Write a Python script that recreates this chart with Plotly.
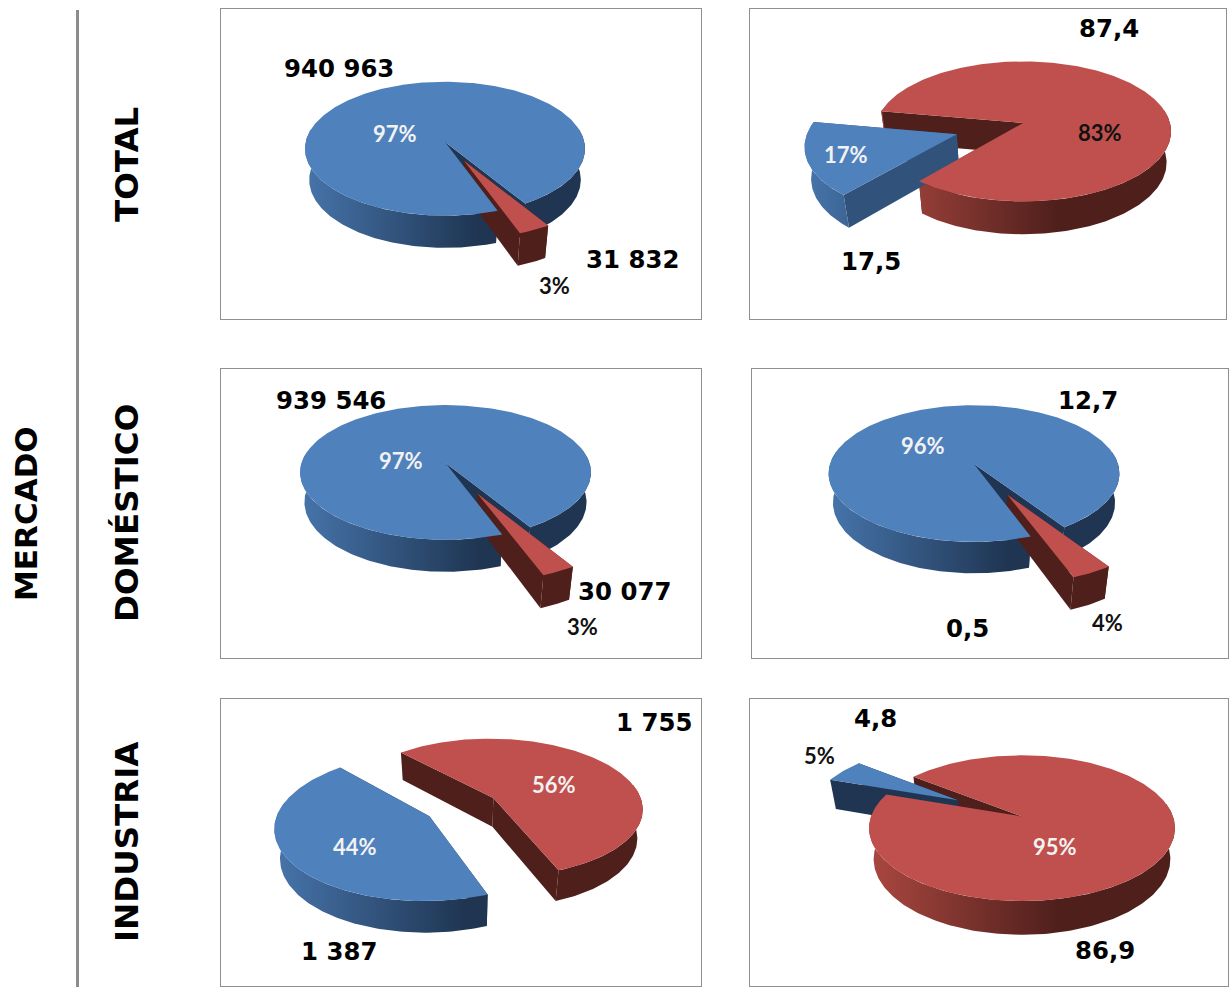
import math
import numpy as np
import plotly.graph_objects as go

# Values per panel, left to right and top to bottom
panel_ids = ["volumen_total", "valor_total", "volumen_dom", "valor_dom", "volumen_ind", "valor_ind"]
blue_values = [940963, 17.5, 939546, 12.7, 1387, 4.8]
red_values = [31832, 87.4, 30077, 0.5, 1755, 86.9]
row_titles = ["TOTAL", "DOMÉSTICO", "INDUSTRIA"]
side_title = "MERCADO"

W, H = 1230, 987
FRAME = "#8f8f8f"
BASE_SCALE = 0.97  # the underside of each pie reads slightly narrower than its top
BLUE = dict(top="#4f81bd", rim=[[0, "#4674aa"], [0.62, "#1f3552"], [1, "#1f3552"]])
RED = dict(top="#c0504d", rim=[[0, "#a9473f"], [0.62, "#4f1f1c"], [1, "#4f1f1c"]])

# Frame, pie projection and explosion for each panel.
# cx/cy locate the pie centre, rx/ry scale the disk, k sets the perspective, d the thickness.
geometry = [
    dict(frame=(221, 701, 9, 319), cx=445, cy=142, rx=139.3, ry=66.3, k=0.10, d=31, start=160,
         boom=(0, 0.30), edge=("#1f3552", "#4f1f1c")),
    dict(frame=(750, 1226, 9, 319), cx=1023, cy=123, rx=147, ry=69, k=0.12, d=31, start=220,
         boom=(0.47, 0), edge=("#31527a", "#4f1f1c")),
    dict(frame=(221, 701, 369, 658), cx=445.5, cy=463, rx=144, ry=66, k=0.14, d=29.5, start=160,
         boom=(0, 0.48), edge=("#1f3552", "#4f1f1c")),
    dict(frame=(752, 1228, 369, 658), cx=974, cy=464, rx=144, ry=67, k=0.14, d=29, start=160,
         boom=(0, 0.48), edge=("#1f3552", "#4f1f1c")),
    dict(frame=(221, 701, 699, 986), cx=462, cy=807, rx=150, ry=70, k=0.14, d=29, start=159,
         boom=(0.25, 0.25), edge=("#1f3552", "#4f1f1c")),
    dict(frame=(750, 1228, 699, 986), cx=1022, cy=816.5, rx=151, ry=71, k=0.16, d=30.5, start=289,
         boom=(0.50, 0), edge=("#1f3552", "#4f1f1c")),
]

# Label anchors: value labels (blue, red) and percentage labels (blue, red), with percent colours
label_spots = [
    dict(val=((339, 68), (632, 259)), pct=((395, 133), (554, 285)), pct_col=("#f2f2f2", "#111111")),
    dict(val=((871, 261), (1109, 28)), pct=((846, 154), (1100, 132)), pct_col=("#f2f2f2", "#111111")),
    dict(val=((331, 400), (624, 591)), pct=((401, 460), (582, 626)), pct_col=("#f2f2f2", "#111111")),
    dict(val=((1088, 400), (968, 628)), pct=((923, 445), (1107, 622)), pct_col=("#f2f2f2", "#111111")),
    dict(val=((339, 951), (654, 722)), pct=((355, 846), (554, 784)), pct_col=("#f2f2f2", "#f2f2f2")),
    dict(val=((875, 718), (1105, 950)), pct=((819, 755), (1055, 846)), pct_col=("#111111", "#f2f2f2")),
]
title_spots = [(127, 165), (127, 513), (127, 842)]


def fmt_value(v):
    """Spanish-style labels: thin groups for integers, decimal comma for the rest."""
    if isinstance(v, int):
        return f"{v:,}".replace(",", " ")
    return f"{v}".replace(".", ",")


def project(g, u, v, drop=0.0):
    w = 1 + g["k"] * v
    scale = 1 - (1 - BASE_SCALE) * drop
    return g["cx"] + scale * g["rx"] * u / w, g["cy"] - scale * g["ry"] * v / w + g["d"] * drop / w


def polar(theta, radius, mid, boom):
    t, m = math.radians(theta), math.radians(mid)
    return radius * math.sin(t) + boom * math.sin(m), radius * math.cos(t) + boom * math.cos(m)


def poly_trace(xs, ys, axis, color=None, gradient=None):
    kw = dict(fillgradient=gradient) if gradient else dict(fillcolor=color)
    return go.Scatter(x=xs, y=ys, xaxis=f"x{axis}", yaxis=f"y{axis}", mode="lines", fill="toself",
                      line=dict(width=0), hoverinfo="skip", showlegend=False, **kw)


def wall_traces(g, axis, t0, t1, boom, palette, edge):
    mid = (t0 + t1) / 2
    thetas = np.linspace(t0, t1, max(8, int(t1 - t0)))
    apex = polar(0, 0, mid, boom)
    traces = []

    # Straight walls along the two cut edges
    for theta in (t0, t1):
        u, v = polar(theta, 1, mid, boom)
        a = project(g, *apex), project(g, u, v), project(g, u, v, 1), project(g, *apex, 1)
        traces.append(poly_trace([p[0] for p in a], [p[1] for p in a], axis, color=edge))

    # Outer rim: one band per contiguous run of angles on the near side of the disk
    runs, run = [], []
    for t in thetas:
        if math.cos(math.radians(t)) < 0.2:
            run.append(t)
        elif run:
            runs.append(run)
            run = []
    if run:
        runs.append(run)
    bx0 = project(g, *polar(270, 1, mid, boom))[0]
    bx1 = project(g, *polar(90, 1, mid, boom))[0]
    for run in runs:
        pts = [polar(t, 1, mid, boom) for t in run]
        upper = [project(g, u, v) for u, v in pts]
        lower = [project(g, u, v, 1) for u, v in pts][::-1]
        ring = upper + lower
        grad = dict(type="horizontal", colorscale=palette["rim"], start=bx0, stop=bx1)
        traces.append(poly_trace([p[0] for p in ring], [p[1] for p in ring], axis, gradient=grad))
    return traces


def top_trace(g, axis, t0, t1, boom, palette):
    mid = (t0 + t1) / 2
    thetas = np.linspace(t0, t1, max(8, int(t1 - t0)))
    face = [project(g, *polar(0, 0, mid, boom))] + [project(g, *polar(t, 1, mid, boom)) for t in thetas]
    return poly_trace([p[0] for p in face], [p[1] for p in face], axis, color=palette["top"])


fig = go.Figure()
layout = dict(width=W, height=H, margin=dict(l=0, r=0, t=0, b=0), paper_bgcolor="white",
              plot_bgcolor="white", showlegend=False)
annotations = []

for i, g in enumerate(geometry):
    axis = i + 1
    x0, x1, y0, y1 = g["frame"]
    common = dict(showgrid=False, zeroline=False, showticklabels=False, ticks="", showline=True,
                  mirror=True, linecolor=FRAME, linewidth=1, fixedrange=True)
    layout[f"xaxis{axis}"] = dict(domain=[x0 / W, x1 / W], range=[x0, x1], anchor=f"y{axis}", **common)
    layout[f"yaxis{axis}"] = dict(domain=[1 - y1 / H, 1 - y0 / H], range=[y1, y0], anchor=f"x{axis}", **common)

    b, r = blue_values[i], red_values[i]
    total = b + r
    blue_sweep = 360 * b / total
    slices = [
        (g["start"], g["start"] + blue_sweep, g["boom"][0], BLUE, g["edge"][0]),
        (g["start"] + blue_sweep, g["start"] + 360, g["boom"][1], RED, g["edge"][1]),
    ]
    # Walls go down first, with the pulled-out slice above the other one;
    # top faces follow, painted from the back of the disk to the front.
    for t0, t1, boom, palette, edge in sorted(slices, key=lambda s: s[2]):
        fig.add_traces(wall_traces(g, axis, t0, t1, boom, palette, edge))
    for t0, t1, boom, palette, edge in sorted(slices, key=lambda s: -math.cos(math.radians((s[0] + s[1]) / 2))):
        fig.add_trace(top_trace(g, axis, t0, t1, boom, palette))

    spots = label_spots[i]
    for j, v in enumerate((b, r)):
        annotations.append(dict(x=spots["val"][j][0], y=spots["val"][j][1], xref=f"x{axis}", yref=f"y{axis}",
                                text=fmt_value(v), showarrow=False,
                                font=dict(family="DejaVu Sans", size=24.4, color="#000000", weight="bold")))
        annotations.append(dict(x=spots["pct"][j][0], y=spots["pct"][j][1], xref=f"x{axis}", yref=f"y{axis}",
                                text=f"<b>{round(100 * v / total)}%</b>", showarrow=False,
                                font=dict(family="Lato", size=22, color=spots["pct_col"][j])))

for title, (tx, ty) in zip(row_titles, title_spots):
    annotations.append(dict(x=tx / W, y=1 - ty / H, xref="paper", yref="paper", text=title, textangle=-90,
                            xanchor="center", yanchor="middle", showarrow=False,
                            font=dict(family="DejaVu Sans", size=32.5, color="#000000", weight="bold")))
annotations.append(dict(x=26 / W, y=1 - 514 / H, xref="paper", yref="paper", text=side_title, textangle=-90,
                        xanchor="center", yanchor="middle", showarrow=False,
                        font=dict(family="DejaVu Sans", size=31, color="#000000", weight="bold")))

layout["annotations"] = annotations
layout["shapes"] = [dict(type="line", xref="paper", yref="paper", x0=77.5 / W, x1=77.5 / W,
                         y0=0, y1=1 - 10 / H, line=dict(color="#8c8c8c", width=3))]
fig.update_layout(**layout)
fig.write_html("out.html")
